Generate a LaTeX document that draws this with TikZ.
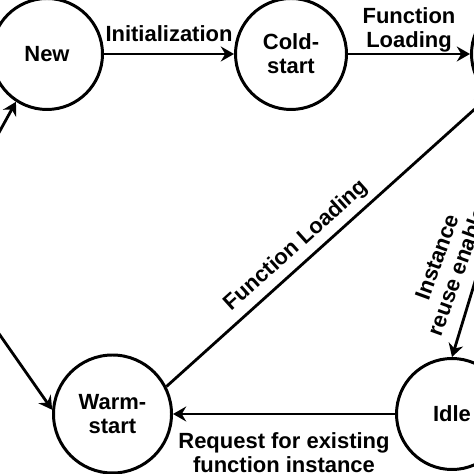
\documentclass[tikz,border=0pt]{standalone}
\usepackage{fontspec}
\setmainfont{Liberation Sans}
\usetikzlibrary{arrows.meta}
\begin{document}
\begin{tikzpicture}[
    state/.style={circle, draw=black, line width=1.7pt,
      minimum size=2.22cm, inner sep=0pt,
      align=center, font=\bfseries\fontsize{12.5}{13.6}\selectfont},
    transition/.style={-{Stealth[length=7.5pt, width=8.5pt, inset=2.5pt]},
      line width=1.6pt},
    tag/.style={align=center, font=\bfseries\fontsize{12.5}{13.6}\selectfont}
  ]
  \useasboundingbox (0,0) rectangle (9.48,9.48);
  \clip (0,0) rectangle (9.48,9.48);

  \node[state] (new) at (0.94,8.40) {New};
  \node[state] (cold) at (5.82,8.40) {Cold-\\start};
  \node[state] (running) at (10.54,8.40) {};
  \node[state] (idle) at (9.04,1.20) {Idle};
  \node[state, minimum size=2.36cm] (warm) at (2.25,1.20) {Warm-\\start};
  \node[state] (request) at (-2.40,4.58) {};

  \draw[transition] (new) -- node[tag, above, yshift=2.6pt] {Initialization} (cold);
  \draw[transition] (cold) -- node[tag, above, yshift=-3.2pt] {Function\\Loading} (running);
  \draw[transition] (running.south) -- (idle.north);
  \node[tag, rotate=70] (reuse) at (8.96,4.26) {Instance\\reuse enabled};
  \draw[transition] (idle) -- node[tag, below, yshift=-6.5pt] {Request for existing\\function instance} (warm);
  \draw[transition] (warm.27) -- node[tag, above, sloped, pos=0.44] {Function Loading} (running.228);
  \draw[transition] (request.east) -- (new.237);
  \draw[transition] (request.east) -- (warm.176);
\end{tikzpicture}
\end{document}
